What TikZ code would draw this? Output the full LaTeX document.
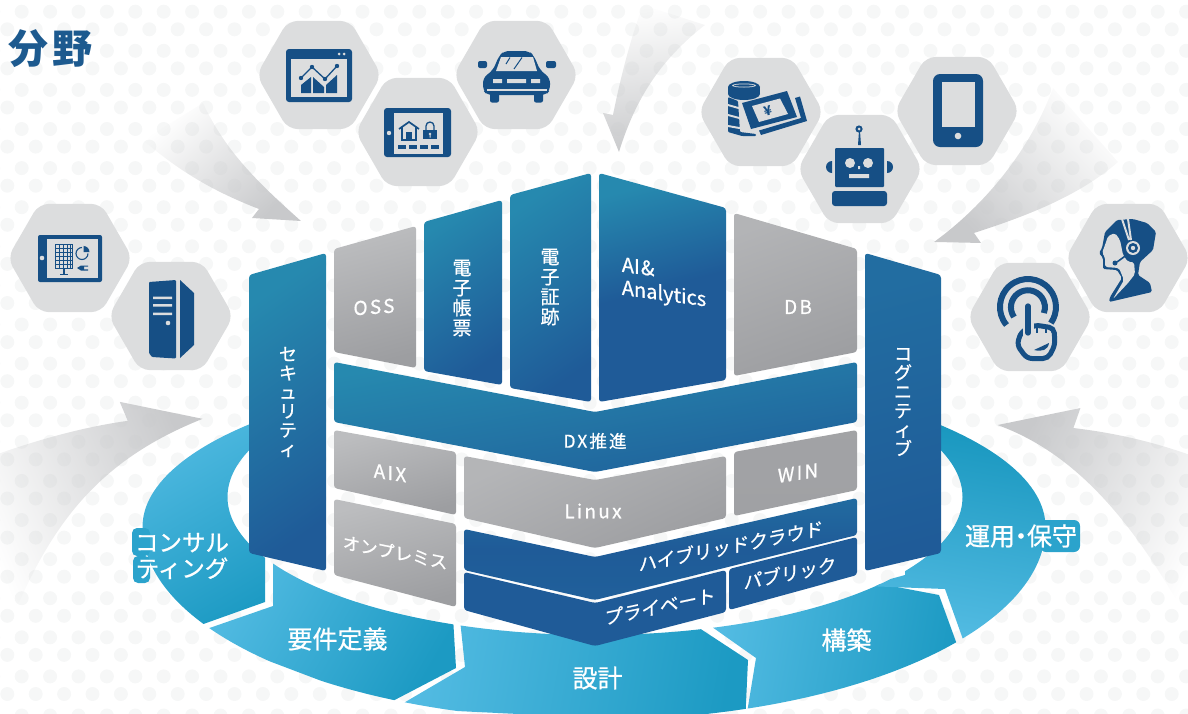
\documentclass[tikz,border=0pt]{standalone}
\usepackage{fontspec}
\setmainfont[FakeBold=0.8]{Noto Sans CJK JP}
\newfontfamily\widefont[LetterSpace=12,FakeBold=0.8]{Noto Sans CJK JP}
\newfontfamily\titlefont{Noto Sans CJK JP}
\usetikzlibrary{shapes.geometric,fadings}
\definecolor{dotgray}{HTML}{F6F7F7}
\definecolor{hexgray}{HTML}{DCDDDE}
\definecolor{arrowgray}{HTML}{C8C9CB}
\definecolor{iconblue}{HTML}{164F85}
\definecolor{titleblue}{HTML}{1D5A8F}
\definecolor{tealtop}{HTML}{2689AF}
\definecolor{navy}{HTML}{1F5B98}
\definecolor{ringlight}{HTML}{54BCE3}
\definecolor{ringdark}{HTML}{1C9AC3}
\definecolor{ringdeep}{HTML}{1293BB}
\definecolor{ringhalo}{HTML}{2BA3CC}
\definecolor{graylight}{HTML}{BCBDBF}
\definecolor{graydark}{HTML}{9D9EA1}
\tikzfading[name=tailfade,left color=transparent!100,middle color=transparent!65,right color=transparent!0]
\tikzset{
	hexcell/.style={regular polygon,regular polygon sides=6,minimum size=125pt,inner sep=0pt,outer sep=0pt,fill=hexgray,rounded corners=10pt},
	bluepanel/.style={rounded corners=3pt,left color=tealtop,right color=navy,shading angle=35},
	graypanel/.style={rounded corners=3pt,left color=graylight,right color=graydark,shading angle=30},
	ringpart/.style={left color=ringlight,middle color=ringlight,right color=ringdark,shading angle=80},
	lbl/.style={text=white,inner sep=0pt,font=\fontsize{18.5}{20}\selectfont},
	vlbl/.style={lbl,align=center},
	widelbl/.style={lbl,font=\widefont\fontsize{19}{20}\selectfont},
	ringlbl/.style={text=white,inner sep=0pt,align=center,font=\fontsize{25}{26}\selectfont},
	icon/.style={fill=iconblue,draw=none},
	iconlight/.style={fill=hexgray,draw=none},
	tailarrow/.style={fill=arrowgray,path fading=tailfade}
}
\begin{document}
\begin{tikzpicture}[x=1pt,y=-1pt]
	\useasboundingbox (0,0) rectangle (1188,713);
	\clip (0,0) rectangle (1188,713);
	% dots
	\foreach \row in {0,...,18} {
		\foreach \col in {0,...,42} {
			\fill [dotgray] ({21.7+28.4*\col-28.4},{11.7+39.1*\row}) circle (7pt);
			\fill [dotgray] ({7.3+28.4*\col},{29.3+39.1*\row}) circle (7pt);
		}
	}
	% arrows
	\fill [tailarrow,fading angle=-40] (143,140) .. controls (180,172) and (215,192) .. (259,209) -- (252,218) -- (301,221) .. controls (255,180) and (225,150) .. (203,103) -- cycle;
	\fill [tailarrow,fading angle=-85] (643,5) .. controls (630,40) and (620,80) .. (613,115) -- (603,113) -- (619,152) .. controls (635,100) and (660,60) .. (705,25) -- cycle;
	\fill [tailarrow,fading angle=220] (1053,88) .. controls (1030,150) and (985,205) .. (934,242) -- (981,243) -- (974,233) .. controls (1030,215) and (1080,195) .. (1118,162) -- cycle;
	\fill [tailarrow,fading angle=25] (-10,456) .. controls (40,438) and (85,426) .. (128,420) -- (120,401) -- (203,418) .. controls (110,455) and (60,510) .. (20,600) -- (-10,640) -- cycle;
	\fill [tailarrow,fading angle=150] (1198,458) .. controls (1155,442) and (1115,433) .. (1073,428) -- (1080,408) -- (997,425) .. controls (1080,455) and (1140,530) .. (1198,640) -- cycle;
	% hexagons
	\node [hexcell] (hexSolar) at (70,258) {};
	\node [hexcell] (hexServer) at (171,316) {};
	\node [hexcell] (hexChart) at (319,75) {};
	\node [hexcell] (hexHome) at (418,132) {};
	\node [hexcell] (hexCar) at (516,75) {};
	\node [hexcell] (hexMoney) at (761,112) {};
	\node [hexcell] (hexRobot) at (860,169) {};
	\node [hexcell] (hexTablet) at (957,111) {};
	\node [hexcell] (hexTouch) at (1030,317) {};
	\node [hexcell] (hexVoice) at (1128,258) {};
	% solar tablet
	\fill [icon,rounded corners=2pt] (38,235) rectangle (102,282);
	\fill [iconlight] (47,239) rectangle (98,278);
	\fill [iconlight] (42,258) circle (2.3pt);
	\draw [iconblue,line width=1pt,fill=hexgray] (55.5,244.5) rectangle (72.5,268.5);
	\foreach \gx in {59,63,67,70} {\draw [iconblue,line width=.8pt] (\gx,245) -- (\gx,268);}
	\foreach \gy in {248,252,256,260,264} {\draw [iconblue,line width=.8pt] (56,\gy) -- (72,\gy);}
	\draw [iconblue,line width=1.2pt] (64,269) -- (64,274) (60,274.5) -- (68,274.5);
	\draw [iconblue,line width=1.1pt] (82,247.5) arc[start angle=90,end angle=360,radius=6pt];
	\fill [icon] (83.5,245.5) -- (83.5,252) -- (89.5,252) arc[start angle=0,end angle=90,radius=6pt] -- cycle;
	\fill [icon] (77,268) -- (81,265.5) -- (84,265.5) -- (84,270.5) -- (81,270.5) -- cycle;
	\fill [icon] (84,265.5) rectangle (88,266.6) (84,269.4) rectangle (88,270.5);
	% server
	\fill [icon,rounded corners=1pt] (149,282) -- (176,280) -- (176,358.5) -- (152,357) -- (149,353) -- cycle;
	\fill [icon] (180,280) -- (194,293) -- (194,345) -- (180,358) -- cycle;
	\fill [iconlight] (153,296.5) rectangle (172,299) (153,304) rectangle (172,306.5) (153,312.5) rectangle (172,315);
	\fill [iconlight] (168,323) circle (2.3pt);
	% chart window
	\fill [icon,rounded corners=3pt] (286,49) rectangle (352,102);
	\fill [iconlight] (291,59) rectangle (347,97);
	\fill [iconlight] (339,54) circle (1.5pt) (344,54) circle (1.5pt);
	\fill [icon] (301,93) -- (301,85) -- (311,77) -- (311,93) -- cycle;
	\fill [icon] (313,93) -- (313,77) -- (324,87) -- (324,93) -- cycle;
	\fill [icon] (326,93) -- (326,85) -- (337,75) -- (337,93) -- cycle;
	\draw [hexgray,line width=2.6pt] (301,78) -- (312,67) -- (325,79) -- (337,66);
	\draw [iconblue,line width=1.3pt] (301,78) -- (312,67) -- (325,79) -- (337,66);
	\fill [icon] (301,78) circle (2.2pt) (312,67) circle (2.2pt) (325,79) circle (2.2pt) (337,66) circle (2.2pt);
	% home tablet
	\fill [icon,rounded corners=3pt] (384,108) rectangle (451,157);
	\fill [iconlight] (394,113) rectangle (443,154);
	\fill [iconlight] (389,133) circle (2.2pt);
	\draw [iconblue,line width=1.7pt] (399,129) -- (409,122) -- (419,129) (402,127) -- (402,140) -- (416,140) -- (416,127);
	\fill [icon] (406,132) rectangle (412,140);
	\draw [iconblue,line width=1.3pt] (426,131) -- (426,126) arc[start angle=180,end angle=0,radius=4pt] -- (434,131);
	\fill [icon] (423,130) rectangle (437,139);
	\fill [iconlight] (430,134) circle (1.4pt) (429.5,134) rectangle (430.5,137.5);
	\foreach \dx in {398,409,420,431} {\fill [icon] (\dx,145) rectangle ++(8,4);}
	% car
	\fill [icon,rounded corners=5pt] (487,95) -- (483,90) -- (483,78) -- (493,70) -- (499,56) -- (504,51) -- (529,51) -- (534,56) -- (540,70) -- (550,78) -- (550,90) -- (546,95) -- cycle;
	\fill [icon,rounded corners=2pt] (490,92) rectangle (499,102.5) (534,92) rectangle (543,102.5);
	\fill [icon,rounded corners=2pt] (478,61) rectangle (487,68) (546,61) rectangle (556,68);
	\fill [iconlight] (496,71) -- (501,57) -- (533,57) -- (537,71) -- cycle;
	\draw [iconblue,line width=1pt] (506,64) -- (510,57.5) (514,69) -- (522,57.5);
	\fill [iconlight] (493,79) rectangle (502,83) (507,79) rectangle (526,83) (531,79) rectangle (540,83);
	\fill [iconlight] (487,89) rectangle (547,91);
	% money
	\fill [icon,rounded corners=1pt] (738,101) -- (728,97) -- (728,132) -- (742,136) -- (756,136) -- (756,134) -- (740,132) -- cycle;
	\fill [iconlight] (728,104) -- (742,108) -- (742,110) -- (728,106) -- cycle;
	\fill [iconlight] (728,114) -- (743,118) -- (743,120) -- (728,116) -- cycle;
	\fill [iconlight] (728,125) -- (745,128) -- (745,130) -- (728,127) -- cycle;
	\fill [icon] (744,87) ellipse [x radius=16pt,y radius=6pt];
	\fill [icon] (728,87) rectangle (760,94);
	\fill [icon] (744,94) ellipse [x radius=16pt,y radius=6pt];
	\fill [iconlight] (744,85.5) ellipse [x radius=12pt,y radius=2pt];
	\fill [icon] (744,85.5) ellipse [x radius=10pt,y radius=1.2pt];
	\fill [icon] (742,103) -- (787,91) -- (797,117) -- (751,129) -- cycle;
	\fill [iconlight] (752,106) -- (780,98.5) -- (788,114) -- (759,122) -- cycle;
	\node [font=\titlefont\fontsize{13}{13}\selectfont\bfseries,text=iconblue,inner sep=0pt,rotate=15] (txtYen) at (768,110.5) {¥};
	\fill [icon] (795,98) -- (800,96.5) -- (807,121) -- (761,135) -- (759,130.5) -- (801,118) -- cycle;
	% robot
	\fill [icon,rounded corners=1pt] (835,148) rectangle (884,187);
	\fill [iconlight] (850,163) circle (5pt) (868,163) circle (5pt);
	\fill [iconlight] (858,166) rectangle (860,169) (849,174) rectangle (869,178);
	\fill [icon] (832,161) arc[start angle=90,end angle=270,radius=6pt] -- cycle;
	\fill [icon] (887,161) arc[start angle=90,end angle=-90,radius=6pt] -- cycle;
	\fill [icon] (858,145) -- (859,131) -- (860,131) -- (861,145) -- cycle;
	\fill [icon] (859,129) circle (3.6pt);
	\fill [iconlight] (859,129) circle (1.5pt);
	\fill [icon,rounded corners=3pt] (832,206) -- (832,191) -- (887,191) -- (887,206) -- cycle;
	% tablet
	\fill [icon,rounded corners=7pt] (933,74) rectangle (983,147);
	\fill [iconlight] (942,82) rectangle (975,127);
	\fill [iconlight] (958,136) circle (3.3pt);
	% touch
	\draw [iconblue,line width=6pt] (1006.5,325) arc[start angle=220,end angle=-35,radius=28pt];
	\draw [iconblue,line width=6pt] (1014,317) arc[start angle=215,end angle=-20,radius=17pt];
	\draw [iconblue,line width=5pt,fill=hexgray,rounded corners=5pt] (1021,332) -- (1017,345) -- (1027,358.5) -- (1048,358.5) -- (1055,345) -- (1054,328) -- (1035,325) -- cycle;
	\draw [hexgray,line width=11pt] (1028,304) -- (1028,336);
	\draw [iconblue,line width=5.3pt,line cap=round] (1028,306) -- (1028,333);
	\draw [iconblue,line width=2.5pt] (1037,326) -- (1037,333) (1046,327) -- (1046,333);
	\fill [icon] (1034,350) -- (1049,343) .. controls (1048,350) and (1042,352) .. (1034,350) -- cycle;
	% headset
	\fill [icon,rounded corners=1.5pt] (1105,232) -- (1103,243) -- (1102,248) -- (1099,253) -- (1103,258) -- (1103,269) -- (1117,270) -- (1122,278) -- (1110,297) -- (1109,302) -- (1152,292) -- (1150,283) -- (1138,275) -- (1140,262) -- (1153,250) -- (1156,232) -- (1147,223) -- (1133,219) -- (1117,220) -- cycle;
	\fill [iconlight,rounded corners=2pt] (1105,245) -- (1108,236) -- (1115,233) -- (1120,240) -- (1123,255) -- (1128,262) -- (1134,262) -- (1135,274) -- (1128,283) -- (1113,299) -- (1124,280) -- (1119,268) -- (1105,267) -- (1105,257) -- (1102,253) -- cycle;
	\draw [hexgray,line width=2pt] (1122,219) -- (1129,240) (1128,219) -- (1131,240);
	\fill [iconlight] (1133,248) circle (7pt);
	\fill [icon] (1133,248) circle (5pt);
	\fill [iconlight] (1133,248) circle (2.2pt);
	\draw [iconblue,line width=1.6pt] (1128,254) -- (1117,262);
	\fill [icon] (1115,263) circle (2.5pt);
	% ring
	\begin{scope}[even odd rule]
		\clip (142.5,527) arc[start angle=180,end angle=360,x radius=451.5pt,y radius=193pt] arc[start angle=0,end angle=180,x radius=451.5pt,y radius=159pt] -- cycle (595,497) ellipse [x radius=367.5pt,y radius=138pt];
		\shade [left color=ringlight,right color=ringdark,shading angle=30] (130,400) -- (300,400) -- (265,545) -- (265,602) -- (195,627) -- (130,627) -- cycle;
		\shade [ringpart,shading angle=60] (195,633) -- (273,606) -- (273,555) -- (452,600) -- (456,668) -- (385,705) -- cycle;
		\shade [ringpart] (395,708) -- (465,667) -- (459,610) -- (690,622) -- (748,660) -- (745,725) -- cycle;
		\shade [ringpart] (745,725) -- (756,658) -- (705,622) -- (860,580) -- (939,595) -- (959,650) -- cycle;
		\shade [top color=ringdeep,bottom color=ringlight,shading angle=-10] (1060,400) -- (905,400) -- (905,575) -- (865,586) -- (945,589) -- (965,645) -- (1060,645) -- cycle;
	\end{scope}
	\fill [ringhalo,rounded corners=5pt] (132,528) rectangle (150,556);
	\fill [ringhalo,rounded corners=5pt] (133,556) rectangle (150,583);
	\fill [ringhalo,rounded corners=6pt] (1040,520) rectangle (1080,552);
	% panels
	\shade [bluepanel] (249,275) -- (326,253) -- (326,571) -- (249,553) -- cycle;
	\shade [graypanel,shading angle=15] (334,249) -- (416,226) -- (416,368) -- (334,352) -- cycle;
	\shade [bluepanel] (424,222) -- (502,200) -- (502,385) -- (424,371) -- cycle;
	\shade [bluepanel] (510,195) -- (591,173) -- (591,402) -- (510,388) -- cycle;
	\shade [bluepanel,middle color=navy,shading angle=15] (599,173) -- (726,208) -- (726,380) -- (599,402) -- cycle;
	\shade [graypanel,left color=graylight!70!graydark,shading angle=20] (734,213) -- (857,249) -- (857,352) -- (734,376) -- cycle;
	\shade [left color=tealtop!40!navy,right color=navy,shading angle=15,rounded corners=3pt] (865,253) -- (941,275) -- (941,553) -- (865,571) -- cycle;
	\shade [bluepanel,middle color=navy,right color=navy!88!tealtop,shading angle=10,rounded corners=3pt] (334,362) -- (595,412) -- (857,362) -- (857,422) -- (595,472) -- (334,422) -- cycle;
	\shade [graypanel,shading angle=15] (334,430) -- (456,452) -- (456,515) -- (334,488) -- cycle;
	\shade [graypanel,shading angle=15] (334,499) -- (456,524) -- (456,607) -- (334,575) -- cycle;
	\shade [graypanel,left color=graylight!75!graydark,middle color=graydark!85!black,right color=graydark,shading angle=25] (464,456) -- (595,480) -- (726,456) -- (726,518) -- (595,548) -- (464,518) -- cycle;
	\shade [graypanel,left color=graydark!85!graylight,right color=graydark!90!graylight,shading angle=0] (734,452) -- (857,430) -- (857,490) -- (734,516) -- cycle;
	\shade [bluepanel,left color=tealtop!35!navy,right color=navy!90!tealtop,middle color=navy,shading angle=0] (464,529) -- (595,557) -- (857,498) -- (857,535) -- (595,600) -- (464,570) -- cycle;
	\fill [navy,rounded corners=3pt] (464,572) -- (595,603) -- (726,570) -- (726,612) -- (595,646) -- (464,610) -- cycle;
	\fill [navy,rounded corners=3pt] (729,569) -- (857,537) -- (857,575) -- (729,610) -- cycle;
	% labels
	\node [font=\titlefont\fontsize{40}{40}\selectfont\bfseries,text=titleblue,inner sep=0pt] (txtTitle) at (50.5,49) {分\kern4.5pt 野};
	\node [vlbl,font=\fontsize{18}{19}\selectfont] (txtSecurity) at (288,402) {セ\\キ\\ュ\\リ\\テ\\ィ};
	\node [vlbl,font=\fontsize{18}{19}\selectfont] (txtCognitive) at (903,402) {コ\\グ\\ニ\\テ\\ィ\\ブ};
	\node [vlbl,font=\fontsize{19}{20}\selectfont] (txtForms) at (462,298) {電\\子\\帳\\票};
	\node [vlbl,font=\fontsize{19}{20}\selectfont] (txtCert) at (550,287) {電\\子\\証\\跡};
	\node [lbl,align=left,yslant=-.14,font=\fontsize{20}{23}\selectfont] (txtAI) at (664,284) {AI\kern1pt\&\\Analytics};
	\node [widelbl,yslant=.07] (txtOSS) at (374,307) {OSS};
	\node [widelbl] (txtDB) at (798,307) {DB};
	\node [widelbl,font=\widefont\fontsize{17.5}{19}\selectfont] (txtDX) at (595,441) {DX推進};
	\node [widelbl,yslant=-.15] (txtAIX) at (390,473) {AIX};
	\node [lbl,yslant=-.2,font=\fontsize{17.5}{19}\selectfont] (txtOnprem) at (395,552) {オンプレミス};
	\node [widelbl] (txtLinux) at (593,511) {Linux};
	\node [widelbl,yslant=.15] (txtWin) at (798,473) {WIN};
	\node [lbl,yslant=.2] (txtHybrid) at (731,546) {ハイブリッドクラウド};
	\node [lbl,yslant=.21] (txtPrivate) at (660,606) {プライベート};
	\node [lbl,yslant=.2] (txtPublic) at (790,573) {パブリック};
	\node [ringlbl,font=\fontsize{23.5}{26}\selectfont] (txtConsult) at (182,556) {コンサル\\ティング};
	\node [ringlbl] (txtReq) at (337.5,639) {要件定義};
	\node [ringlbl] (txtDesign) at (597.5,678) {設計};
	\node [ringlbl] (txtBuild) at (846.5,640) {構築};
	\node [ringlbl] (txtOps) at (1021,536) {運用\kern-6.5pt ・\kern-6.5pt 保守};
\end{tikzpicture}
\end{document}
